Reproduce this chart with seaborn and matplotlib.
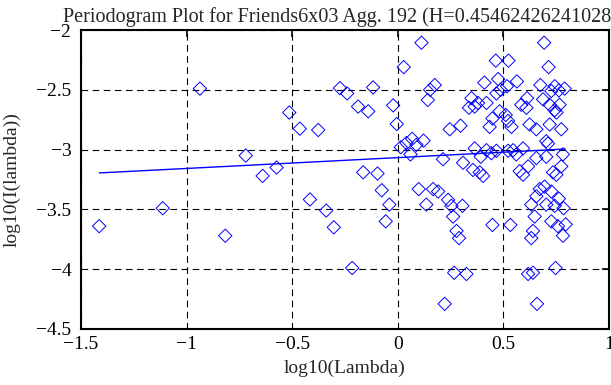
import numpy as np
import pandas as pd
import matplotlib
matplotlib.use("Agg")
import matplotlib.pyplot as plt
from matplotlib.ticker import FuncFormatter
import seaborn as sns

# periodogram points (log10 lambda, log10 I(lambda))
log_lambda = [
    -1.414, -1.113, -0.937, -0.817, -0.720, -0.640, -0.574, -0.514, -0.464, -0.416,
    -0.377, -0.339, -0.303, -0.274, -0.240, -0.216, -0.188, -0.164, -0.140, -0.117,
    -0.096, -0.076, -0.057, -0.040, -0.022, -0.005, 0.014, 0.028, 0.041, 0.060,
    0.068, 0.088, 0.099, 0.112, 0.122, 0.135, 0.142, 0.153, 0.175, 0.167,
    0.191, 0.214, 0.222, 0.238, 0.246, 0.254, 0.262, 0.267, 0.278, 0.290,
    0.297, 0.306, 0.309, 0.325, 0.337, 0.349, 0.356, 0.364, 0.364, 0.380,
    0.388, 0.393, 0.404, 0.410, 0.420, 0.420, 0.435, 0.443, 0.448, 0.448,
    0.464, 0.467, 0.467, 0.475, 0.482, 0.487, 0.511, 0.517, 0.522, 0.522,
    0.524, 0.533, 0.538, 0.546, 0.561, 0.564, 0.577, 0.585, 0.593, 0.593,
    0.609, 0.612, 0.617, 0.617, 0.624, 0.632, 0.632, 0.640, 0.640, 0.648,
    0.656, 0.656, 0.656, 0.659, 0.672, 0.675, 0.688, 0.693, 0.695, 0.703,
    0.703, 0.703, 0.711, 0.714, 0.719, 0.719, 0.727, 0.727, 0.727, 0.735,
    0.743, 0.743, 0.743, 0.747, 0.751, 0.751, 0.758, 0.763, 0.763, 0.766,
    0.774, 0.774, 0.782, 0.782, 0.785, 0.790, 0.795,
]
log_power = [
    -3.64, -3.49, -2.49, -3.72, -3.05, -3.22, -3.15, -2.69, -2.825, -3.417,
    -2.836, -3.51, -3.65, -2.486, -2.53, -3.99, -2.64, -3.19, -2.68, -2.48,
    -3.20, -3.34, -3.60, -3.46, -2.63, -2.786, -2.98, -2.31, -2.945, -3.04,
    -2.91, -2.96, -3.33, -2.106, -2.925, -3.46, -2.585, -2.50, -2.46, -3.33,
    -3.35, -3.08, -4.29, -3.42, -2.83, -3.47, -3.56, -4.03, -3.68, -3.74,
    -2.80, -3.47, -3.11, -4.04, -2.65, -2.57, -3.17, -2.64, -2.99, -2.61,
    -3.19, -3.06, -3.22, -2.44, -2.61, -3.005, -2.81, -3.03, -2.74, -3.63,
    -2.256, -2.53, -3.01, -2.41, -2.68, -2.50, -2.71, -2.47, -2.76, -3.01,
    -2.256, -3.63, -2.81, -3.005, -3.04, -2.43, -3.18, -2.625, -2.99, -3.21,
    -2.65, -2.57, -3.14, -4.04, -2.79, -3.46, -3.74, -3.68, -4.03, -3.56,
    -2.83, -3.07, -3.39, -4.29, -3.33, -2.46, -2.58, -2.106, -3.31, -2.93,
    -3.06, -3.46, -2.95, -2.31, -2.625, -2.79, -2.51, -3.35, -3.60, -3.19,
    -2.47, -2.67, -3.47, -3.99, -2.69, -3.21, -3.64, -2.505, -3.41, -2.625,
    -2.83, -3.14, -3.04, -3.72, -3.49, -2.49, -3.625,
]

# least-squares fit line end points
fit_x = [-1.413, 0.793]
fit_y = [-3.195, -2.995]

title = "Periodogram Plot for Friends6x03 Agg. 192 (H=0.454624262410283)"

sns.set_style("white")
plt.rcParams["font.family"] = ["Liberation Serif", "DejaVu Serif"]
plt.rcParams["axes.unicode_minus"] = True

df = pd.DataFrame({"x": log_lambda, "y": log_power})

fig = plt.figure(figsize=(6.11, 3.85), dpi=100)
ax = fig.add_axes([0.1326, 0.1455, 0.8641, 0.7765])

sns.scatterplot(data=df, x="x", y="y", marker="D", s=46, facecolor="none",
                edgecolor="blue", linewidth=0.7, ax=ax, zorder=3)
sns.lineplot(x=fit_x, y=fit_y, color="blue", linewidth=1.0, ax=ax, zorder=4)

ax.set_xlim(-1.5, 1)
ax.set_ylim(-4.5, -2)
ax.set_xticks(np.arange(-1.5, 1.01, 0.5))
ax.set_yticks(np.arange(-4.5, -1.99, 0.5))
fmt = FuncFormatter(lambda v, p: ("%g" % v).replace("-", "\u2212"))
ax.xaxis.set_major_formatter(fmt)
ax.yaxis.set_major_formatter(fmt)

ax.grid(True, color="black", linestyle=(0, (6, 4)), linewidth=0.8)
ax.tick_params(direction="in", length=5, width=1.2, top=True, right=True,
               labelsize=14, colors="black")
ax.tick_params(axis="x", pad=5)
ax.tick_params(axis="y", pad=7)
for sp in ax.spines.values():
    sp.set_visible(True)
    sp.set_color("black")
    sp.set_linewidth(1.5)

ax.set_xlabel("log10(Lambda)", fontsize=14, labelpad=5)
ax.set_ylabel("log10(I(lambda))", fontsize=14, labelpad=11)
ax.set_title(title, fontsize=14.5, pad=6)

fig.savefig("out.png", dpi=100)
